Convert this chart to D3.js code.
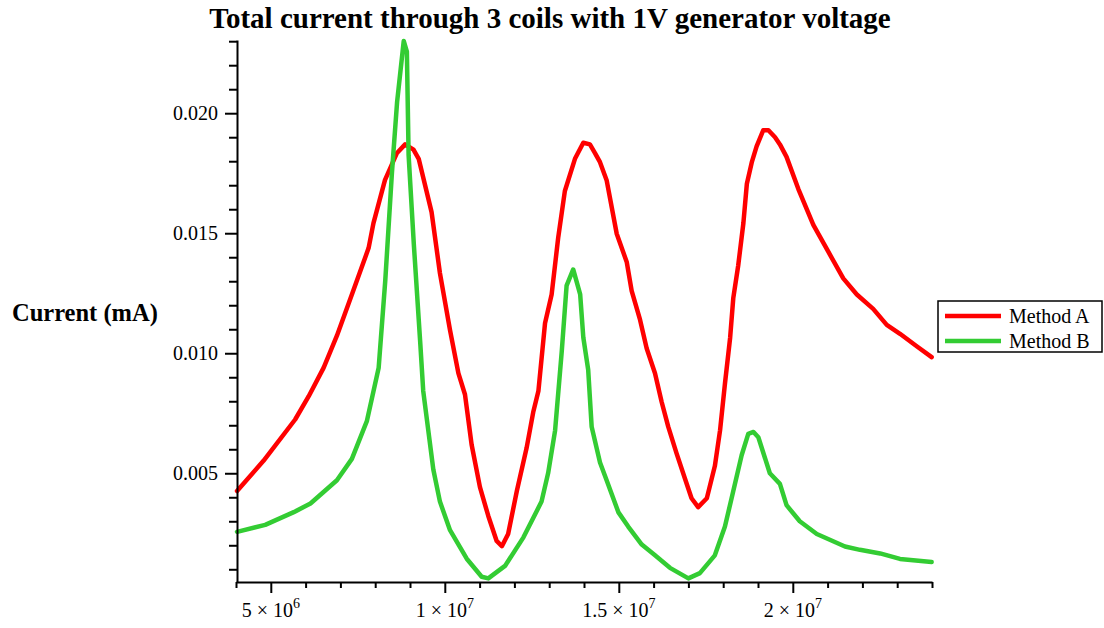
<!DOCTYPE html>
<html>
<head>
<meta charset="utf-8">
<script src="https://cdn.jsdelivr.net/npm/d3@7"></script>
<style>
  body { margin: 0; background: #fff; }
  text { font-family: "Liberation Serif", "Times New Roman", serif; }
</style>
</head>
<body>
<svg id="chart" width="1104" height="628"></svg>
<script>
// frequency in units of 1e6 Hz, current in mA
const freqA = [4.03, 4.79, 5.70, 6.09, 6.52, 6.90, 7.33, 7.81, 7.95, 8.28, 8.62, 8.86, 9.10, 9.25,
  9.62, 9.86, 10.15, 10.39, 10.58, 10.77, 11.01, 11.25, 11.49, 11.64, 11.82, 12.07, 12.35, 12.54,
  12.69, 12.88, 13.07, 13.26, 13.45, 13.74, 13.98, 14.17, 14.32, 14.46, 14.65, 14.94, 15.23, 15.37,
  15.61, 15.80, 16.04, 16.23, 16.42, 16.66, 16.90, 17.09, 17.28, 17.53, 17.76, 17.91, 18.05, 18.20,
  18.29, 18.43, 18.58, 18.68, 18.82, 18.96, 19.15, 19.30, 19.49, 19.63, 19.82, 20.16, 20.59, 21.02,
  21.45, 21.84, 22.31, 22.70, 23.08, 23.56, 23.99];
const currentA = [0.00426, 0.00552, 0.00724, 0.00821, 0.00940, 0.01073, 0.01245, 0.01438, 0.01542,
  0.01721, 0.01833, 0.01870, 0.01848, 0.01810, 0.01588, 0.01334, 0.01096, 0.00917, 0.00828, 0.00620,
  0.00442, 0.00322, 0.00218, 0.00196, 0.00247, 0.00426, 0.00605, 0.00754, 0.00843, 0.01125, 0.01245,
  0.01483, 0.01676, 0.01810, 0.01877, 0.01870, 0.01833, 0.01796, 0.01721, 0.01498, 0.01379, 0.01260,
  0.01140, 0.01021, 0.00917, 0.00798, 0.00694, 0.00583, 0.00478, 0.00396, 0.00359, 0.00396, 0.00530,
  0.00679, 0.00873, 0.01066, 0.01230, 0.01364, 0.01542, 0.01706, 0.01795, 0.01862, 0.01929, 0.01929,
  0.01900, 0.01870, 0.01818, 0.01684, 0.01535, 0.01423, 0.01312, 0.01245, 0.01185, 0.01118, 0.01081,
  0.01029, 0.00984];

const freqB = [4.03, 4.84, 5.66, 6.14, 6.90, 7.33, 7.76, 8.10, 8.29, 8.48, 8.63, 8.82, 8.91, 8.96,
  9.11, 9.29, 9.38, 9.67, 9.86, 10.15, 10.63, 11.06, 11.25, 11.73, 12.26, 12.78, 12.97, 13.17, 13.36,
  13.50, 13.69, 13.89, 13.98, 14.12, 14.22, 14.46, 14.65, 14.99, 15.27, 15.66, 16.04, 16.47, 17.00,
  17.33, 17.76, 18.05, 18.29, 18.53, 18.72, 18.87, 19.01, 19.34, 19.63, 19.82, 20.20, 20.69, 21.50,
  21.93, 22.51, 23.08, 23.99];
const currentB = [0.00256, 0.00285, 0.00338, 0.00374, 0.00471, 0.00560, 0.00717, 0.00940, 0.01304,
  0.01750, 0.02048, 0.02301, 0.02257, 0.01825, 0.01454, 0.01054, 0.00843, 0.00516, 0.00382, 0.00263,
  0.00144, 0.00069, 0.00062, 0.00114, 0.00233, 0.00382, 0.00501, 0.00679, 0.01007, 0.01282, 0.01349,
  0.01245, 0.01066, 0.00932, 0.00694, 0.00545, 0.00471, 0.00337, 0.00278, 0.00203, 0.00158, 0.00106,
  0.00062, 0.00084, 0.00158, 0.00278, 0.00426, 0.00575, 0.00664, 0.00672, 0.00650, 0.00500, 0.00456,
  0.00367, 0.00300, 0.00247, 0.00195, 0.00181, 0.00166, 0.00143, 0.00130];

const seriesNames = ['Method A', 'Method B'];
const seriesColors = ['#ff0000', '#33cc33'];
const xTickMantissa = ['5', '1', '1.5', '2'];
const xTickExp = ['6', '7', '7', '7'];
const xTickValues = [5e6, 1e7, 1.5e7, 2e7];
const yTickValues = [0.005, 0.010, 0.015, 0.020];

const svg = d3.select('#chart');

const x = d3.scaleLinear().domain([4e6, 2.4e7]).range([236, 932]);
const y = d3.scaleLinear().domain([0.00047, 0.02305]).range([582, 40]);

const series = [
  freqA.map((f, i) => ({ f: f * 1e6, c: currentA[i] })),
  freqB.map((f, i) => ({ f: f * 1e6, c: currentB[i] }))
];

const line = d3.line().x(d => x(d.f)).y(d => y(d.c));

svg.selectAll('path.series')
  .data(series)
  .enter()
  .append('path')
  .attr('class', 'series')
  .attr('d', line)
  .attr('fill', 'none')
  .attr('stroke', (d, i) => seriesColors[i])
  .attr('stroke-width', 4.5)
  .attr('stroke-linejoin', 'round')
  .attr('stroke-linecap', 'round');

// x axis: minor ticks every 1e6, major every 5e6
const xMinor = d3.range(4e6, 2.4e7 + 1, 1e6);
const xAxisG = svg.append('g').attr('transform', 'translate(0,582)');
xAxisG.call(d3.axisBottom(x).tickValues(xMinor).tickSize(6).tickFormat('').tickSizeOuter(0));
xAxisG.selectAll('.tick line')
  .attr('y2', d => xTickValues.includes(d) ? 11 : 6);
xAxisG.selectAll('line, path').attr('stroke', '#000').attr('stroke-width', 2);

const xLabels = svg.append('g')
  .selectAll('text')
  .data(xTickValues)
  .enter()
  .append('text')
  .attr('x', d => x(d))
  .attr('y', 617)
  .attr('text-anchor', 'middle')
  .attr('font-size', 20);
xLabels.append('tspan').text((d, i) => `${xTickMantissa[i]} \u00d7 10`);
xLabels.append('tspan')
  .attr('dy', -9)
  .attr('font-size', 14)
  .text((d, i) => xTickExp[i]);

// y axis: minor ticks every 0.001
const yMinor = d3.range(1, 24).map(k => k / 1000);
const yAxisG = svg.append('g').attr('transform', 'translate(237,0)');
yAxisG.call(d3.axisLeft(y).tickValues(yMinor).tickSize(8).tickFormat('').tickSizeOuter(0));
yAxisG.selectAll('.tick line')
  .attr('x2', d => yTickValues.some(v => Math.abs(v - d) < 1e-9) ? -12 : -8);
yAxisG.selectAll('line, path').attr('stroke', '#000').attr('stroke-width', 2);

svg.append('g')
  .selectAll('text')
  .data(yTickValues)
  .enter()
  .append('text')
  .attr('x', 218)
  .attr('y', d => y(d) + 7)
  .attr('text-anchor', 'end')
  .attr('font-size', 20)
  .text(d => d3.format('.3f')(d));

// title and axis label
svg.append('text')
  .attr('x', 550)
  .attr('y', 28)
  .attr('text-anchor', 'middle')
  .attr('font-size', 29)
  .attr('font-weight', 'bold')
  .text('Total current through 3 coils with 1V generator voltage');

svg.append('text')
  .attr('x', 12)
  .attr('y', 321)
  .attr('font-size', 24.5)
  .attr('font-weight', 'bold')
  .text('Current (mA)');

// legend
const legend = svg.append('g').attr('transform', 'translate(938,301)');
legend.append('rect')
  .attr('width', 164)
  .attr('height', 51)
  .attr('fill', '#fff')
  .attr('stroke', '#000')
  .attr('stroke-width', 1.5);
const items = legend.selectAll('g')
  .data(seriesNames)
  .enter()
  .append('g')
  .attr('transform', (d, i) => `translate(0, ${15 + i * 25})`);
items.append('line')
  .attr('x1', 7).attr('x2', 63)
  .attr('stroke', (d, i) => seriesColors[i])
  .attr('stroke-width', 4.5);
items.append('text')
  .attr('x', 71)
  .attr('y', 7)
  .attr('font-size', 20)
  .text(d => d);
</script>
</body>
</html>
